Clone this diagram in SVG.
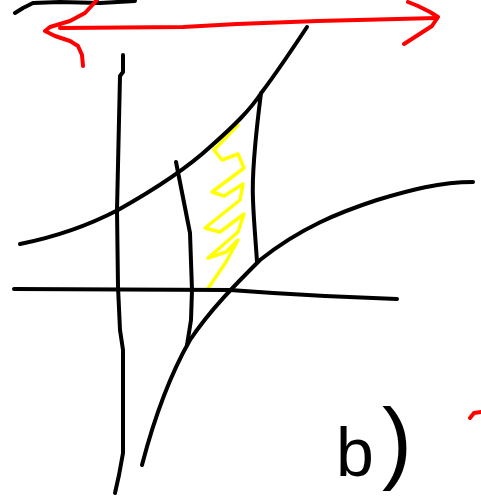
<svg xmlns="http://www.w3.org/2000/svg" width="481" height="497" viewBox="0 0 481 497">
<style>
.k{fill:none;stroke:#000;stroke-width:4;stroke-linecap:round;stroke-linejoin:round}
.r{fill:none;stroke:#ff0000;stroke-width:4;stroke-linecap:round;stroke-linejoin:round}
.y{fill:none;stroke:#ffff00;stroke-width:3.5;stroke-linecap:round;stroke-linejoin:round}
.lbl{font-family:"Liberation Sans",Arial,sans-serif;fill:#000}
</style>
<rect width="481" height="497" fill="#fff"/>
<g id="shading">
<path class="y" d="M238,125 L214,150 L222,160 L238,154 L244,168 L212,192 L224,196 L243,184 L240,200 L205,228 L220,232 L244,214 L238,232 L208,258 L226,252 L238,240 L226,262 L207,290"/>
</g>
<g id="lines">
<path class="k" d="M15,13 L23,8 L33,3 L60,2 L100,3 L135,1"/>
<path class="k" d="M20,244 C60,236 95,222 118,210 C150,192 185,170 210,147 C235,125 250,110 262,92 C280,68 295,45 307,27"/>
<path class="k" d="M142,465 C155,415 170,375 190,340 C210,310 235,285 260,260 C300,228 340,212 377,200 C410,190 440,182 473,182"/>
<path class="k" d="M14,289 L230,290 L273,293 L325,296 L397,299"/>
<path class="k" d="M123,55 L123,72 L120,76 L117,210 L118,287 L120,330 L123,350 L123,453 L119,475 L115,493"/>
<path class="k" d="M176,162 L190,233 L192,290 L191,320 L187,345"/>
<path class="k" d="M261,93 C255,140 252,180 253,200 C254,225 256,245 257,262"/>
</g>
<g id="arrow">
<path class="r" d="M60,28 L183,27 L237,24 L318,21 L437,18"/>
<path class="r" d="M97,0 L85,13 L70,21 L50,27 L45,31 L55,36 L70,41 L78,46 L82,55 L83,66"/>
<path class="r" d="M408,2 L418,6 L430,12 L438,17 L432,26 L418,35 L404,44"/>
<path class="r" d="M470,418 L474,413 L481,412"/>
</g>
<g id="label">
<text class="lbl" x="336" y="476" font-size="68">b<tspan x="382" y="472" font-size="90">)</tspan></text>
</g>
</svg>
